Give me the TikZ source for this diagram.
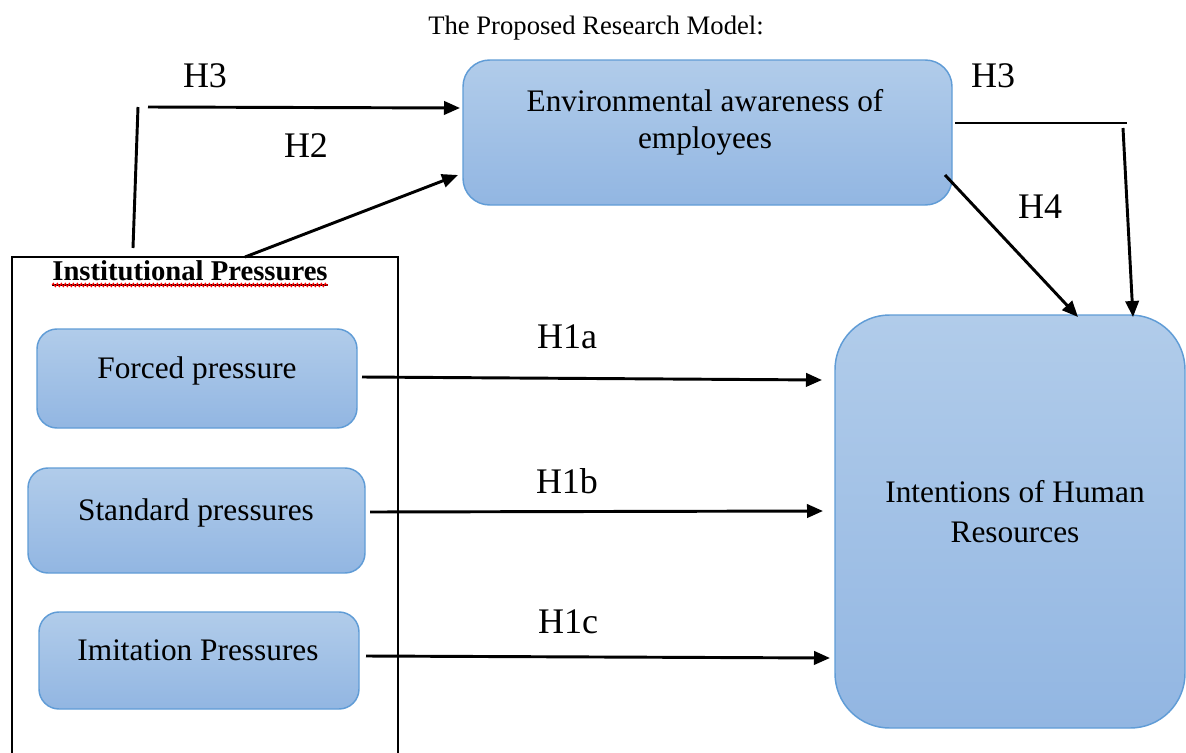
\documentclass[tikz,border=0pt]{standalone}
\usepackage{fontspec}
\setmainfont{Liberation Serif}
\usetikzlibrary{arrows.meta,decorations.pathmorphing}
\definecolor{boxtop}{RGB}{177,204,234}
\definecolor{boxbot}{RGB}{146,182,226}
\definecolor{boxline}{RGB}{96,156,214}
\begin{document}
\begin{tikzpicture}[x=0.75pt,y=-0.75pt,
  blk/.style={draw=boxline, line width=1.1pt, top color=boxtop, bottom color=boxbot, inner sep=0pt},
  txt/.style={font=\fontsize{23.5}{30}\selectfont, inner sep=0pt, anchor=base},
  lab/.style={font=\fontsize{27}{30}\selectfont, inner sep=0pt, anchor=base},
  arr/.style={line width=2.2pt, -{Triangle[length=12pt,width=10pt]}},
  ln/.style={line width=2.2pt}]
\useasboundingbox (0,0) rectangle (1186,753);
% title
\node[font=\fontsize{20}{24}\selectfont, inner sep=0pt, anchor=base] (title) at (596,35) {The Proposed Research Model:};
% outer frame
\node[draw, line width=1.4pt, inner sep=0pt, minimum width=289.5pt, minimum height=444.75pt] (inst) at (205,553.5) {};
\node[font=\bfseries\fontsize{21.5}{26}\selectfont, inner sep=0pt, anchor=base] (insttxt) at (190,280) {Institutional Pressures};
\draw[line width=0.8pt] (insttxt.base west) ++(0,5) coordinate (ul1) -- (insttxt.base east |- ul1) coordinate (ul2);
\draw[red, line width=0.8pt, decorate, decoration={snake, amplitude=1.2pt, segment length=3pt}] (ul1) -- (ul2);
% boxes
\node[blk, rounded corners=20pt, minimum width=366.75pt, minimum height=108.75pt] (env) at (707.5,132.5) {};
\node[txt] (envt1) at (705,111) {Environmental awareness of};
\node[txt] (envt2) at (705,148) {employees};
\node[blk, rounded corners=41pt, minimum width=262.5pt, minimum height=309.75pt] (hr) at (1010,521.5) {};
\node[txt] (hrt1) at (1015,502) {Intentions of Human};
\node[txt] (hrt2) at (1015,542) {Resources};
\node[blk, rounded corners=15pt, minimum width=240pt, minimum height=74.25pt] (fp) at (197,378.5) {};
\node[txt] (fpt) at (197,378) {Forced pressure};
\node[blk, rounded corners=15pt, minimum width=252.75pt, minimum height=78.75pt] (sp) at (196.5,520.5) {};
\node[txt] (spt) at (196,520) {Standard pressures};
\node[blk, rounded corners=15pt, minimum width=240pt, minimum height=72.75pt] (ip) at (199,660.5) {};
\node[txt] (ipt) at (198,660) {Imitation Pressures};
% connector end points
\coordinate (h3s) at (133,248);
\coordinate (h3c) at (138,107);
\coordinate (h3b) at (148,107);
\coordinate (h3e) at (460,108);
\coordinate (h2s) at (245,257);
\coordinate (h2e) at (458,175);
\coordinate (r3s) at (955,123);
\coordinate (r3c) at (1127,123);
\coordinate (r3b) at (1123,128);
\coordinate (r3e) at (1133,317);
\coordinate (h4s) at (945,175);
\coordinate (h4e) at (1078,317);
\coordinate (aas) at (362,377);
\coordinate (aae) at (822,380);
\coordinate (abs) at (370,512);
\coordinate (abe) at (823,511);
\coordinate (acs) at (366,656);
\coordinate (ace) at (830,658);
% connectors
\draw[ln] (h3s) -- (h3c);
\draw[arr] (h3b) -- (h3e);
\draw[arr] (h2s) -- (h2e);
\draw[ln] (r3s) -- (r3c);
\draw[arr] (r3b) -- (r3e);
\draw[arr] (h4s) -- (h4e);
\draw[arr] (aas) -- (aae);
\draw[arr] (abs) -- (abe);
\draw[arr] (acs) -- (ace);
% labels
\node[lab] (l3a) at (205,87) {H3};
\node[lab] (l2) at (306,157) {H2};
\node[lab] (l3b) at (993,87) {H3};
\node[lab] (l4) at (1040,218) {H4};
\node[lab] (l1a) at (567,348) {H1a};
\node[lab] (l1b) at (567,493) {H1b};
\node[lab] (l1c) at (568,633) {H1c};
\end{tikzpicture}
\end{document}
